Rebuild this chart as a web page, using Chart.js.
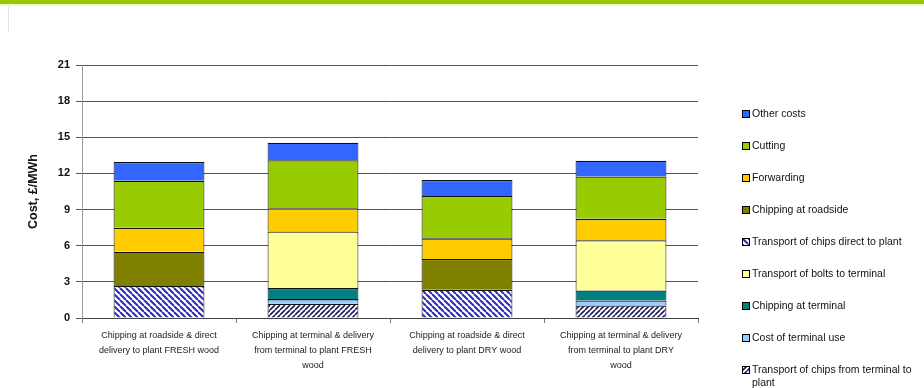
<!DOCTYPE html>
<html>
<head>
<meta charset="utf-8">
<script src="https://cdn.jsdelivr.net/npm/chart.js@4/dist/chart.umd.min.js"></script>
<style>
  html, body { margin: 0; padding: 0; background: #fff; }
  #wrap { position: relative; width: 924px; height: 388px; overflow: hidden; }
  #band { position: absolute; left: 0; top: 0; width: 924px; height: 4px; background: #99c400; }
  #band2 { position: absolute; left: 0; top: 4px; width: 924px; height: 3px; background: linear-gradient(#eef6b0, #fff); }
  #edge { position: absolute; left: 8px; top: 6px; width: 1px; height: 26px; background: #e2e2e2; }
  #chart { position: absolute; left: 0; top: 0; }
  #legend { position: absolute; left: 742px; top: 108px; width: 182px; font-family: "Liberation Sans", Arial, sans-serif; font-size: 10.5px; color: #111; }
  .li { position: relative; height: 32px; }
  .li canvas { position: absolute; left: 0; top: 2px; }
  .li span { position: absolute; left: 10px; top: -1px; line-height: 13px; width: 176px; }
</style>
</head>
<body>
<div id="wrap">
  <div id="band"></div><div id="band2"></div><div id="edge"></div>
  <canvas id="chart" width="924" height="388"></canvas>
  <div id="legend"></div>
</div>
<script>
// ---- data ----
const categories = [
  ["Chipping at roadside & direct", "delivery to plant FRESH wood"],
  ["Chipping at terminal & delivery", "from terminal to plant FRESH", "wood"],
  ["Chipping at roadside & direct", "delivery to plant DRY wood"],
  ["Chipping at terminal & delivery", "from terminal to plant DRY", "wood"]
];
const yTicks = [0, 3, 6, 9, 12, 15, 18, 21];
const transportFromTerminal = [null, 1.18, null, 1.04];
const costTerminalUse       = [null, 0.39, null, 0.41];
const chippingAtTerminal    = [null, 0.91, null, 0.83];
const transportBolts        = [null, 4.71, null, 4.17];
const transportDirect       = [2.65, null, 2.34, null];
const chippingRoadside      = [2.85, null, 2.56, null];
const forwarding            = [2.00, 1.93, 1.71, 1.78];
const cutting               = [3.90, 3.98, 3.52, 3.51];
const otherCosts            = [1.55, 1.45, 1.33, 1.32];

const seriesNames = [
  "Transport of chips from terminal to plant",
  "Cost of terminal use",
  "Chipping at terminal",
  "Transport of  bolts to terminal",
  "Transport of chips direct to plant",
  "Chipping at roadside",
  "Forwarding",
  "Cutting",
  "Other costs"
];
const seriesValues = [transportFromTerminal, costTerminalUse, chippingAtTerminal, transportBolts,
  transportDirect, chippingRoadside, forwarding, cutting, otherCosts];

// ---- styles ----
function hatch(fg, dir, size, lw) {
  const c = document.createElement('canvas');
  c.width = size; c.height = size;
  const g = c.getContext('2d');
  g.fillStyle = '#fff'; g.fillRect(0, 0, size, size);
  g.strokeStyle = fg; g.lineWidth = lw;
  g.beginPath();
  if (dir === 'back') {
    for (let k = -1; k <= 1; k++) { g.moveTo(k * size, 0); g.lineTo(k * size + size, size); }
  } else {
    for (let k = -1; k <= 1; k++) { g.moveTo(k * size, size); g.lineTo(k * size + size, 0); }
  }
  g.stroke();
  return g.createPattern(c, 'repeat');
}
const ctx = document.getElementById('chart').getContext('2d');
const fills = [
  hatch('#1c1c5a', 'fwd', 5, 1.6),
  '#99ccff',
  '#008080',
  '#ffff99',
  hatch('#2b2bb8', 'back', 6, 2),
  '#808000',
  '#ffcc00',
  '#99cc00',
  '#3366ff'
];

const datasets = seriesNames.map((n, i) => ({
  label: n,
  data: seriesValues[i],
  backgroundColor: fills[i],
  borderColor: '#111',
  borderWidth: { top: 1.3, left: 1, right: 1, bottom: 0 },
  borderSkipped: false,
  barPercentage: 0.59,
  categoryPercentage: 1.0
}));

const chart = new Chart(ctx, {
  type: 'bar',
  data: { labels: categories, datasets },
  options: {
    responsive: false,
    animation: false,
    events: [],
    layout: { padding: { left: 25, right: 226, top: 65, bottom: 0 } },
    plugins: { legend: { display: false }, tooltip: { enabled: false } },
    scales: {
      x: {
        stacked: true,
        grid: { display: true, drawOnChartArea: false, offset: true, tickLength: 5, color: '#777' },
        border: { display: true, color: '#444', width: 1 },
        ticks: { maxRotation: 0, minRotation: 0, autoSkip: false, padding: 5, color: '#222',
                 font: { family: 'Liberation Sans', size: 9, lineHeight: 1.66 } },
        afterFit: s => { s.height = 70; }
      },
      y: {
        stacked: true,
        min: 0, max: 21,
        afterBuildTicks: s => { s.ticks = yTicks.map(v => ({ value: v })); },
        grid: { color: '#555', tickLength: 6, lineWidth: 1 },
        border: { display: true, color: '#999', width: 1 },
        ticks: { color: '#111', padding: 6, font: { family: 'Liberation Sans', size: 11, weight: 'bold' } },
        title: { display: true, text: 'Cost, £/MWh', color: '#111', padding: { top: 1, bottom: 6 },
                 font: { family: 'Liberation Sans', size: 12.5, weight: 'bold' } },
        afterFit: s => { s.width = 57; }
      }
    }
  }
});

// ---- legend (reverse stacking order) ----
const lg = document.getElementById('legend');
for (let i = seriesNames.length - 1; i >= 0; i--) {
  const row = document.createElement('div'); row.className = 'li';
  const sw = document.createElement('canvas'); sw.width = 8; sw.height = 8;
  const g = sw.getContext('2d');
  g.fillStyle = fills[i];
  g.fillRect(0, 0, 8, 8);
  g.strokeStyle = '#000'; g.lineWidth = 1; g.strokeRect(0.5, 0.5, 7, 7);
  const t = document.createElement('span'); t.textContent = seriesNames[i];
  row.appendChild(sw); row.appendChild(t); lg.appendChild(row);
}
</script>
</body>
</html>
